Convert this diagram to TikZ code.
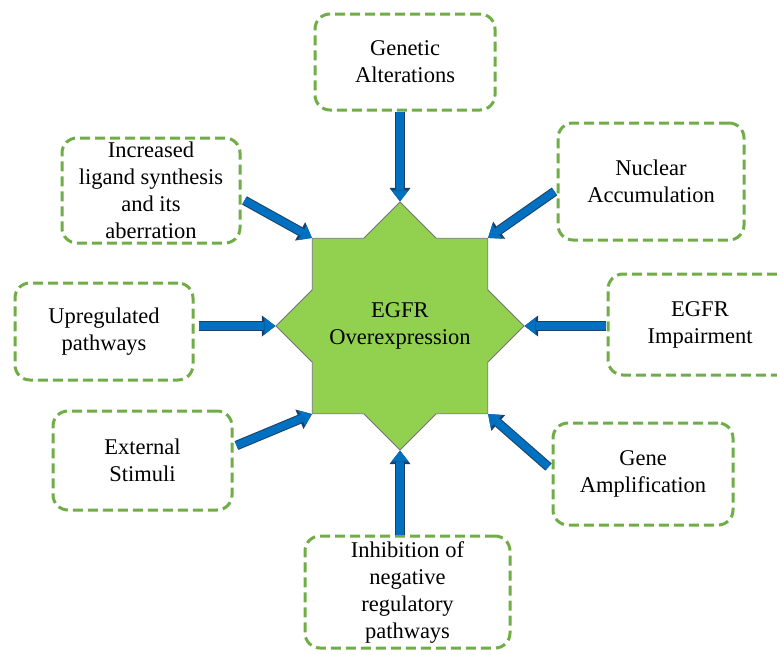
\documentclass[tikz,border=0pt]{standalone}
\usepackage{fontspec}
\setmainfont{Liberation Serif}
\usetikzlibrary{shapes.geometric,arrows.meta}
\definecolor{boxgreen}{HTML}{70AD47}
\definecolor{stargreen}{HTML}{92D050}
\definecolor{arrowblue}{HTML}{0070C0}
\definecolor{arrowedge}{HTML}{1F3F66}

\begin{document}
\begin{tikzpicture}[x=1pt,y=-1pt,
  font=\fontsize{22.5}{27}\selectfont,
  cause/.style={draw=boxgreen, line width=3pt, dash pattern=on 10pt off 5pt,
    rounded corners=15pt, align=center, inner sep=0pt},
  feed/.style={draw=arrowblue, line width=7.5pt,
    -{Triangle[length=11pt,width=17pt,line width=0pt]},
    preaction={draw=arrowedge, line width=9.5pt,
      -{Triangle[length=13.5pt,width=21pt,line width=0pt]}}}]
  \useasboundingbox (0,0) rectangle (777,654);

  % Central star
  \node[star, star points=8, star point ratio=1.307, minimum size=248pt,
    inner sep=0pt, fill=stargreen, draw=black!55, line width=0.8pt,
    label={[align=center]center:EGFR\\Overexpression}] (egfr) at (400,326) {};

  % Causes around the star
  \node[cause, minimum width=180pt, minimum height=96pt]  (gen) at (405,62)    {Genetic\\Alterations};
  \node[cause, minimum width=186pt, minimum height=117pt] (nuc) at (651,181.5) {Nuclear\\Accumulation};
  \node[cause, minimum width=184pt, minimum height=101pt] (imp) at (700,324.5) {EGFR\\Impairment};
  \node[cause, minimum width=180pt, minimum height=102pt] (amp) at (643,474)   {Gene\\Amplification};
  \node[cause, minimum width=205pt, minimum height=112pt] (inh) at (407.5,592) {Inhibition of\\negative\\regulatory\\pathways};
  \node[cause, minimum width=179pt, minimum height=99pt]  (ext) at (142.5,460.5) {External\\Stimuli};
  \node[cause, minimum width=178pt, minimum height=97pt]  (upr) at (104,331.5) {Upregulated\\pathways};
  \node[cause, minimum width=178pt, minimum height=105pt] (lig) at (151,190.5) {Increased\\ligand synthesis\\and its\\aberration};

  % Arrows into the star
  \draw[feed] (gen.south -| egfr.north) -- (egfr.north);
  \draw[feed] ([yshift=-10pt,xshift=-2pt]nuc.west) -- (egfr.45);
  \draw[feed] ([xshift=-1pt]imp.west |- egfr.east) -- (egfr.east);
  \draw[feed] ([yshift=7pt,xshift=-3pt]amp.west) -- (egfr.-45);
  \draw[feed] (inh.north -| egfr.south) -- (egfr.south);
  \draw[feed] ([yshift=15pt,xshift=3pt]ext.east) -- (egfr.-135);
  \draw[feed] ([xshift=4pt]upr.east |- egfr.west) -- (egfr.west);
  \draw[feed] ([yshift=-10pt,xshift=3pt]lig.east) -- (egfr.135);
\end{tikzpicture}
\end{document}
